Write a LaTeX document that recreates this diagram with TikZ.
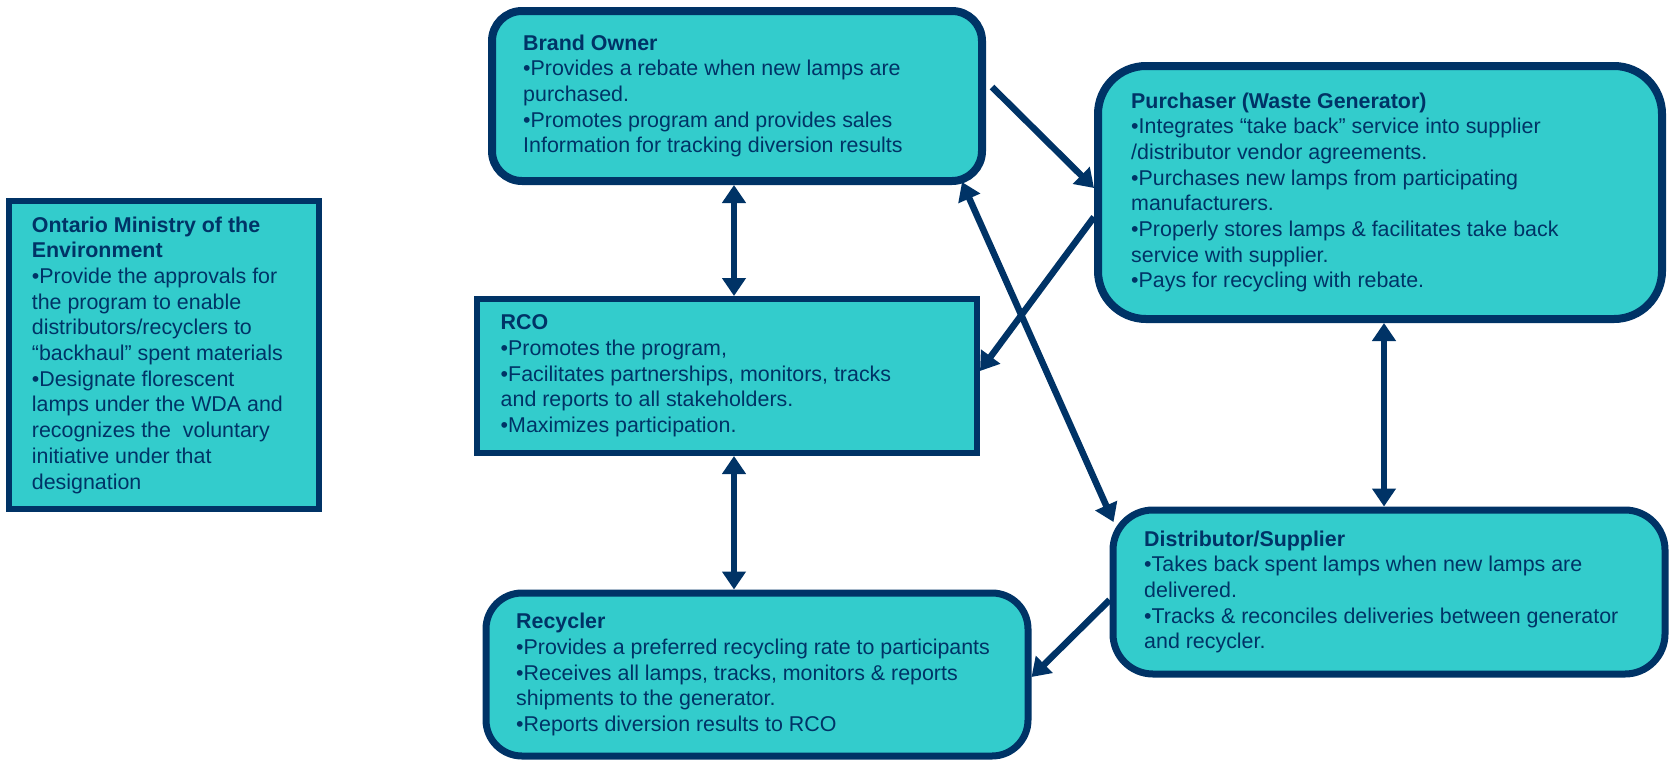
\documentclass[tikz,border=0pt]{standalone}
\usepackage{fontspec}
\setmainfont{Liberation Sans}
\usetikzlibrary{arrows.meta,calc}
\definecolor{navy}{HTML}{003366}
\definecolor{tealfill}{HTML}{33CCCC}
\begin{document}
\begin{tikzpicture}[x=1pt,y=-1pt,
  box/.style={draw=navy,fill=tealfill,inner sep=0pt},
  txt/.style={text=navy,align=left,anchor=west,inner sep=0pt,
    font=\fontsize{21.4pt}{25.7pt}\selectfont},
  tipA/.tip={Triangle[width=23pt,length=18pt]},
  arr/.style={draw=navy,line width=6.5pt,-tipA},
  dbl/.style={draw=navy,line width=6.5pt,tipA-tipA}]
\useasboundingbox (0,0) rectangle (1672,764);

% boxes
\node[box,line width=6pt,minimum width=310pt,minimum height=308pt] (mi) at (164,355) {};
\node[box,line width=8pt,rounded corners=30pt,minimum width=490pt,minimum height=170pt] (bo) at (737,96) {};
\node[box,line width=8pt,rounded corners=48pt,minimum width=564pt,minimum height=253pt] (pu) at (1380,192.5) {};
\node[box,line width=6pt,minimum width=500pt,minimum height=154pt] (rco) at (727,376) {};
\node[box,line width=7pt,rounded corners=36pt,minimum width=542pt,minimum height=163pt] (re) at (757,674.5) {};
\node[box,line width=7pt,rounded corners=40pt,minimum width=552pt,minimum height=164pt] (di) at (1389,592) {};

% texts
\node[txt] (mit) at ($(mi.west)+(25.7,0)$) {\textbf{Ontario Ministry of the}\\
\textbf{Environment}\\
•Provide the approvals for\\
the program to enable\\
distributors/recyclers to\\
“backhaul” spent materials\\
•Designate florescent\\
lamps under the WDA and\\
recognizes the\ \ voluntary\\
initiative under that\\
designation};
\node[txt] (bot) at ($(bo.west)+(35,0)$) {\textbf{Brand Owner}\\
•Provides a rebate when new lamps are\\
purchased.\\
•Promotes program and provides sales\\
Information for tracking diversion results};
\node[txt] (put) at ($(pu.west)+(37,0)$) {\textbf{Purchaser (Waste Generator)}\\
•Integrates “take back” service into supplier\\
/distributor vendor agreements.\\
•Purchases new lamps from participating\\
manufacturers.\\
•Properly stores lamps \& facilitates take back\\
service with supplier.\\
•Pays for recycling with rebate.};
\node[txt] (rcot) at ($(rco.west)+(26.5,0)$) {\textbf{RCO}\\
•Promotes the program,\\
•Facilitates partnerships, monitors, tracks\\
and reports to all stakeholders.\\
•Maximizes participation.};
\node[txt] (ret) at ($(re.west)+(33.5,0)$) {\textbf{Recycler}\\
•Provides a preferred recycling rate to participants\\
•Receives all lamps, tracks, monitors \& reports\\
shipments to the generator.\\
•Reports diversion results to RCO};
\node[txt] (dit) at ($(di.west)+(34.5,0)$) {\textbf{Distributor/Supplier}\\
•Takes back spent lamps when new lamps are\\
delivered.\\
•Tracks \& reconciles deliveries between generator\\
and recycler.};

% connectors
\coordinate (xl) at (734,0);
\coordinate (xr) at (1384,0);
\draw[dbl] (bo.south -| xl) -- (rco.north -| xl);
\draw[dbl] (rco.south -| xl) -- (re.north -| xl);
\draw[dbl] (pu.south -| xr) -- (di.north -| xr);
\draw[arr] ($(bo.east)+(6,-9)$) -- ($(pu.west)+(0,-4.5)$);
\draw[arr] ($(pu.west)+(0,24.5)$) -- ($(rco.east)+(0,-5)$);
\draw[dbl] ($(bo.south east)+(-24,-3)$) -- ($(di.north west)+(4,15.5)$);
\draw[arr] ($(di.west)+(0,8)$) -- ($(re.east)+(0,2.5)$);
\end{tikzpicture}
\end{document}
